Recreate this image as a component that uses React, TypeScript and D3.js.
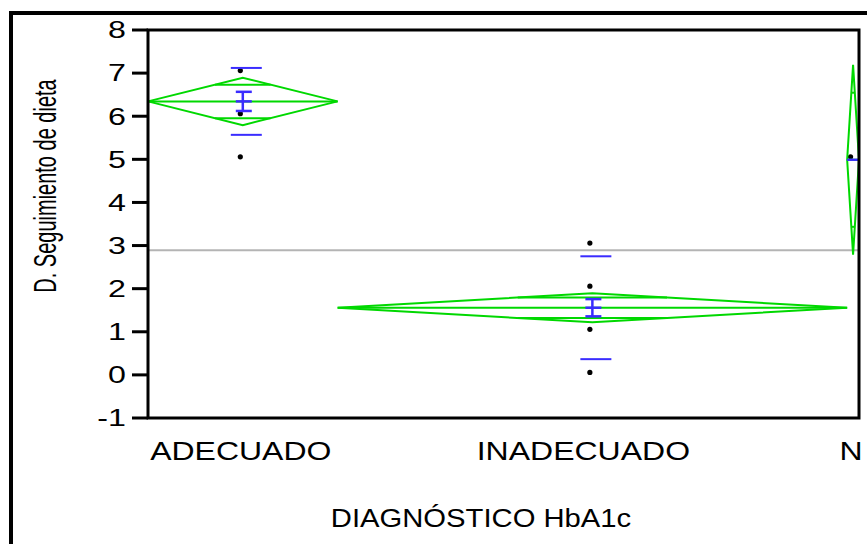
import React from "react";
import * as d3 from "d3";

const groups = ["ADECUADO", "INADECUADO", "N"];
const groupCounts = [16, 43, 1];
const groupMeans = [6.344, 1.558, 4.99];
const ciHalf = [0.55, 0.336, 2.2];
const seHalf = [0.222, 0.2, 0];
const sdHalf = [0.776, 1.193, 0];
const groupPoints = [[7, 6, 5], [3, 2, 1, 0], [5]];
const grandMean = 2.894;
const yTicks = [8, 7, 6, 5, 4, 3, 2, 1, 0, -1];
const yTitle = "D. Seguimiento de dieta";
const xTitle = "DIAGNÓSTICO HbA1c";

const W = 867;
const H = 544;
const PL = 148, PR = 859, PT = 30, PB = 418;
const GREEN = "#00d800";
const BLUE = "#3a2cff";
const FONT = "'Liberation Sans', Arial, sans-serif";
const SX = 1.4;

export default function App() {
  const total = d3.sum(groupCounts);
  const x = d3.scaleLinear().domain([0, total]).range([PL, PR]);
  const y = d3.scaleLinear().domain([-1, 8]).range([PB, PT]);
  const starts = d3.cumsum([0, ...groupCounts]);
  const g = groups.map((name, i) => {
    const x0 = x(starts[i]);
    const x1 = x(starts[i + 1]);
    return { name, i, x0, x1, cx: (x0 + x1) / 2 };
  });
  const ov = Math.SQRT1_2;
  return (
    <svg width={W} height={H} style={{ position: "absolute", left: 0, top: 0, background: "#fff" }} fontFamily={FONT}>
      <rect x={0} y={0} width={W} height={H} fill="#fff" />
      <rect x={11} y={13} width={950} height={650} fill="none" stroke="#000" strokeWidth={4} />
      {/* grand mean */}
      <line x1={PL} x2={PR} y1={y(grandMean)} y2={y(grandMean)} stroke="#b4b4b4" strokeWidth={2} />
      {g.map((d) => {
        const m = groupMeans[d.i];
        const ci = ciHalf[d.i];
        const hw = (d.x1 - d.x0) / 2;
        const diamond = d3.line()([
          [d.x0, y(m)],
          [d.cx, y(m + ci)],
          [d.x1, y(m)],
          [d.cx, y(m - ci)],
          [d.x0, y(m)],
        ]) as string;
        const ovw = hw * (1 - ov);
        const se = seHalf[d.i];
        const sd = sdHalf[d.i];
        const sdL = Math.max(d.x0, d.cx - 12);
        const sdR = Math.min(d.x1, d.cx + 19);
        return (
          <g key={d.name}>
            {groupPoints[d.i].map((v, k) => (
              <circle key={k} cx={d.cx - 2.5} cy={y(v) - 2.5} r={2.6} fill="#000" />
            ))}
            <path d={diamond} fill="none" stroke={GREEN} strokeWidth={2} strokeLinejoin="miter" />
            <line x1={d.x0} x2={d.x1} y1={y(m)} y2={y(m)} stroke={GREEN} strokeWidth={2} />
            <line x1={d.cx - ovw} x2={d.cx + ovw} y1={y(m + ci * ov)} y2={y(m + ci * ov)} stroke={GREEN} strokeWidth={2} />
            <line x1={d.cx - ovw} x2={d.cx + ovw} y1={y(m - ci * ov)} y2={y(m - ci * ov)} stroke={GREEN} strokeWidth={2} />
            {se > 0 && (
              <g stroke={BLUE} strokeWidth={2.5}>
                <line x1={d.cx} x2={d.cx} y1={y(m + se)} y2={y(m - se)} />
                <line x1={d.cx - 7} x2={d.cx + 9} y1={y(m + se)} y2={y(m + se)} />
                <line x1={d.cx - 7} x2={d.cx + 9} y1={y(m - se)} y2={y(m - se)} />
                <line x1={d.cx - 7} x2={d.cx + 9} y1={y(m)} y2={y(m)} />
              </g>
            )}
            <line x1={sdL} x2={sdR} y1={y(m + sd)} y2={y(m + sd)} stroke={BLUE} strokeWidth={2} />
            <line x1={sdL} x2={sdR} y1={y(m - sd)} y2={y(m - sd)} stroke={BLUE} strokeWidth={2} />
          </g>
        );
      })}
      {/* frame of plot */}
      <rect x={PL} y={PT} width={PR - PL} height={PB - PT} fill="none" stroke="#000" strokeWidth={3} />
      {yTicks.map((t) => (
        <g key={t}>
          <line x1={132} x2={PL} y1={y(t)} y2={y(t)} stroke="#000" strokeWidth={3} />
          <text transform={`translate(126,${y(t) + 8.3}) scale(${SX},1)`} textAnchor="end" fontSize={23} fill="#000">
            {t}
          </text>
        </g>
      ))}
      {starts.slice(1, -1).map((s, k) => (
        <line key={k} x1={x(s)} x2={x(s)} y1={PB} y2={431} stroke="#000" strokeWidth={2} />
      ))}
      {g.map((d) => (
        <text key={d.name} transform={`translate(${d.cx - (d.i === 1 ? 9 : 2)},460) scale(1.28,1)`} textAnchor="middle" fontSize={25} fill="#000">
          {d.name}
        </text>
      ))}
      <text transform={`translate(481,527) scale(1.17,1)`} textAnchor="middle" fontSize={25} fill="#000">
        {xTitle}
      </text>
      <text transform={`translate(56,186) scale(1.6,1) rotate(-90)`} textAnchor="middle" fontSize={20} fill="#000">
        {yTitle}
      </text>
    </svg>
  );
}
